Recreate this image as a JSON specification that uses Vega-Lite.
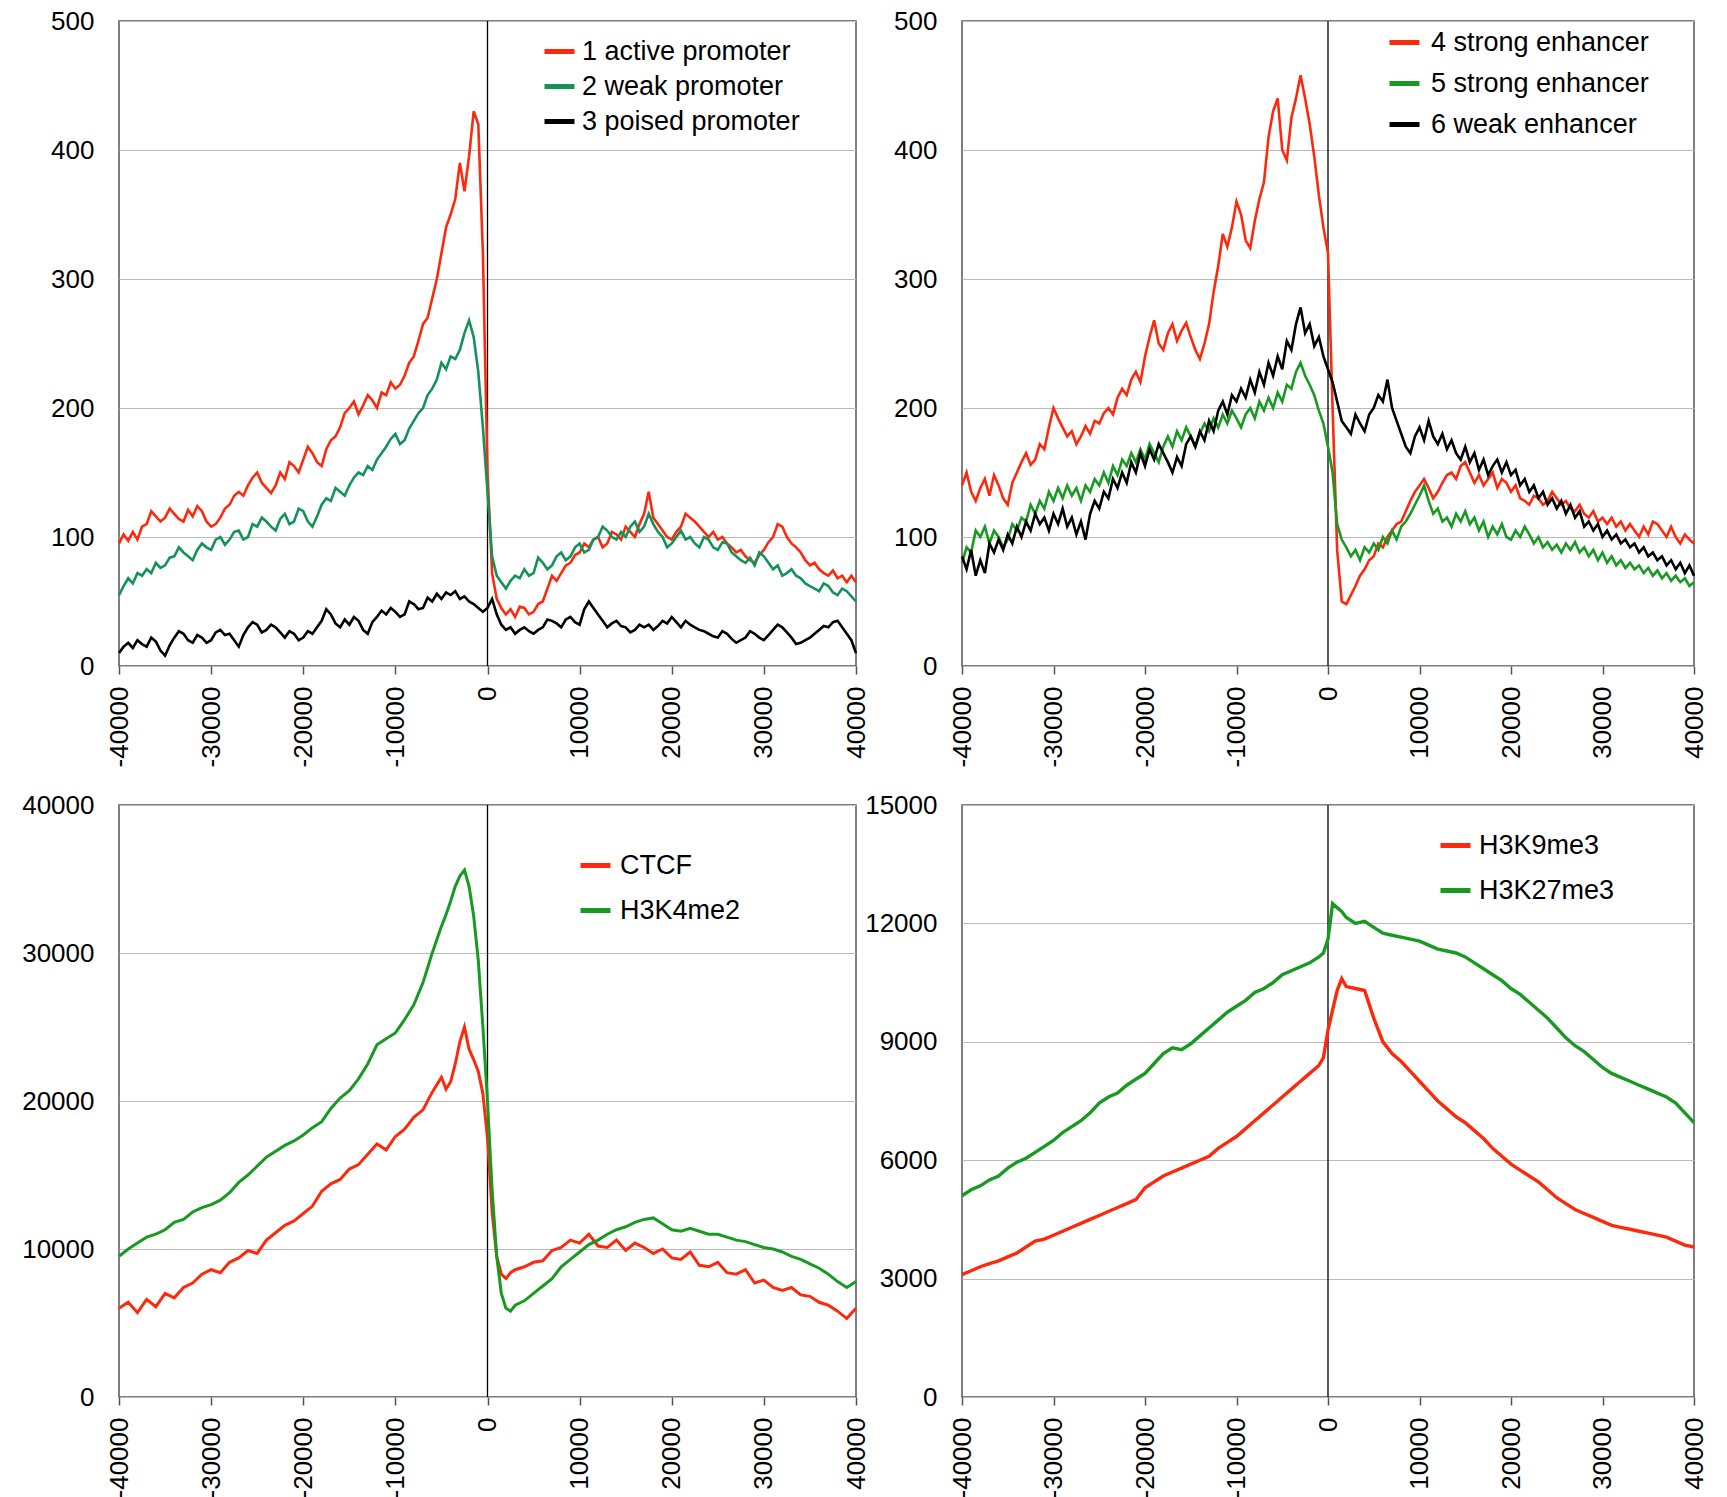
{
"$schema":"https://vega.github.io/schema/vega-lite/v6.json",
"background":"white",
"padding":{"left":20,"top":7,"right":5,"bottom":5},
"columns":2,
"bounds":"flush",
"spacing":{"row":139,"column":106},
"resolve":{"scale":{"color":"independent","x":"independent","y":"independent"},"legend":{"color":"independent"}},
"config":{
"font":"Liberation Sans",
"view":{"stroke":"#555555","strokeWidth":1.5},
"axis":{"labelFont":"Liberation Sans","labelFontSize":26,"labelColor":"#000000","labelFlush":false,"labelOverlap":false,"labelBound":false},
"axisX":{"labelAngle":-90,"tickSize":8,"tickColor":"#555555","tickWidth":1.5,"domain":false,"grid":false,"labelPadding":12,"labelAlign":"right","labelBaseline":"middle"},
"axisY":{"ticks":false,"domain":false,"grid":true,"gridColor":"#bbbbbb","gridWidth":1.2,"labelPadding":25},
"legend":{"orient":"none","symbolType":"stroke","symbolStrokeWidth":5,"symbolSize":900,"labelFont":"Liberation Sans","labelFontSize":27,"labelColor":"#000000","padding":0,"labelLimit":600}
},
"concat":[
{
"width":737,"height":645,
"data":{"values":[
{"x":-40000,"a":95,"b":55,"c":10},{"x":-39500,"a":102,"b":62,"c":15},{"x":-39000,"a":97,"b":68,"c":18},{"x":-38500,"a":104,"b":64,"c":14},
{"x":-38000,"a":98,"b":72,"c":20},{"x":-37500,"a":108,"b":70,"c":17},{"x":-37000,"a":110,"b":75,"c":15},{"x":-36500,"a":120,"b":72,"c":22},
{"x":-36000,"a":116,"b":80,"c":19},{"x":-35500,"a":112,"b":76,"c":12},{"x":-35000,"a":115,"b":78,"c":8},{"x":-34500,"a":122,"b":84,"c":16},
{"x":-34000,"a":118,"b":85,"c":22},{"x":-33500,"a":114,"b":92,"c":27},{"x":-33000,"a":112,"b":88,"c":25},{"x":-32500,"a":121,"b":85,"c":20},
{"x":-32000,"a":116,"b":82,"c":18},{"x":-31500,"a":124,"b":90,"c":24},{"x":-31000,"a":120,"b":95,"c":22},{"x":-30500,"a":112,"b":92,"c":18},
{"x":-30000,"a":108,"b":90,"c":20},{"x":-29500,"a":110,"b":98,"c":26},{"x":-29000,"a":115,"b":100,"c":28},{"x":-28500,"a":122,"b":94,"c":24},
{"x":-28000,"a":125,"b":98,"c":25},{"x":-27500,"a":132,"b":104,"c":20},{"x":-27000,"a":135,"b":105,"c":15},{"x":-26500,"a":132,"b":98,"c":24},
{"x":-26000,"a":140,"b":100,"c":30},{"x":-25500,"a":146,"b":110,"c":34},{"x":-25000,"a":150,"b":108,"c":32},{"x":-24500,"a":142,"b":115,"c":26},
{"x":-24000,"a":138,"b":112,"c":28},{"x":-23500,"a":134,"b":108,"c":32},{"x":-23000,"a":140,"b":105,"c":30},{"x":-22500,"a":150,"b":114,"c":26},
{"x":-22000,"a":145,"b":118,"c":22},{"x":-21500,"a":158,"b":110,"c":27},{"x":-21000,"a":155,"b":112,"c":25},{"x":-20500,"a":150,"b":122,"c":20},
{"x":-20000,"a":160,"b":120,"c":22},{"x":-19500,"a":170,"b":112,"c":27},{"x":-19000,"a":165,"b":108,"c":25},{"x":-18500,"a":158,"b":116,"c":30},
{"x":-18000,"a":155,"b":125,"c":35},{"x":-17500,"a":168,"b":130,"c":44},{"x":-17000,"a":175,"b":128,"c":40},{"x":-16500,"a":178,"b":138,"c":33},
{"x":-16000,"a":185,"b":135,"c":30},{"x":-15500,"a":196,"b":132,"c":36},{"x":-15000,"a":200,"b":140,"c":32},{"x":-14500,"a":205,"b":146,"c":38},
{"x":-14000,"a":195,"b":150,"c":35},{"x":-13500,"a":202,"b":148,"c":28},{"x":-13000,"a":210,"b":155,"c":25},{"x":-12500,"a":206,"b":152,"c":34},
{"x":-12000,"a":200,"b":160,"c":38},{"x":-11500,"a":212,"b":165,"c":43},{"x":-11000,"a":210,"b":170,"c":40},{"x":-10500,"a":220,"b":176,"c":45},
{"x":-10000,"a":215,"b":180,"c":42},{"x":-9500,"a":218,"b":172,"c":38},{"x":-9000,"a":225,"b":175,"c":40},{"x":-8500,"a":235,"b":184,"c":50},
{"x":-8000,"a":240,"b":190,"c":48},{"x":-7500,"a":252,"b":196,"c":44},{"x":-7000,"a":265,"b":200,"c":45},{"x":-6500,"a":270,"b":210,"c":53},
{"x":-6000,"a":285,"b":215,"c":50},{"x":-5500,"a":300,"b":222,"c":56},{"x":-5000,"a":320,"b":235,"c":52},{"x":-4500,"a":340,"b":230,"c":57},
{"x":-4000,"a":350,"b":240,"c":55},{"x":-3500,"a":362,"b":238,"c":58},{"x":-3000,"a":390,"b":245,"c":52},{"x":-2500,"a":368,"b":258,"c":54},
{"x":-2000,"a":395,"b":268,"c":50},{"x":-1500,"a":430,"b":255,"c":48},{"x":-1000,"a":420,"b":228,"c":45},{"x":-500,"a":320,"b":185,"c":42},
{"x":0,"a":150,"b":135,"c":45},{"x":500,"a":72,"b":85,"c":52},{"x":1000,"a":52,"b":70,"c":40},{"x":1500,"a":45,"b":65,"c":32},
{"x":2000,"a":40,"b":60,"c":28},{"x":2500,"a":44,"b":66,"c":30},{"x":3000,"a":38,"b":70,"c":25},{"x":3500,"a":46,"b":68,"c":28},
{"x":4000,"a":45,"b":75,"c":30},{"x":4500,"a":40,"b":70,"c":27},{"x":5000,"a":42,"b":72,"c":25},{"x":5500,"a":48,"b":84,"c":28},
{"x":6000,"a":50,"b":80,"c":30},{"x":6500,"a":60,"b":75,"c":36},{"x":7000,"a":70,"b":78,"c":35},{"x":7500,"a":66,"b":85,"c":33},
{"x":8000,"a":72,"b":88,"c":30},{"x":8500,"a":78,"b":82,"c":36},{"x":9000,"a":80,"b":85,"c":38},{"x":9500,"a":86,"b":92,"c":34},
{"x":10000,"a":88,"b":95,"c":32},{"x":10500,"a":95,"b":88,"c":44},{"x":11000,"a":92,"b":90,"c":50},{"x":11500,"a":98,"b":98,"c":45},
{"x":12000,"a":100,"b":100,"c":40},{"x":12500,"a":92,"b":108,"c":35},{"x":13000,"a":95,"b":105,"c":30},{"x":13500,"a":104,"b":100,"c":33},
{"x":14000,"a":102,"b":98,"c":35},{"x":14500,"a":98,"b":104,"c":31},{"x":15000,"a":108,"b":100,"c":30},{"x":15500,"a":104,"b":108,"c":26},
{"x":16000,"a":100,"b":112,"c":28},{"x":16500,"a":110,"b":104,"c":32},{"x":17000,"a":118,"b":108,"c":30},{"x":17500,"a":135,"b":118,"c":32},
{"x":18000,"a":115,"b":110,"c":28},{"x":18500,"a":110,"b":104,"c":31},{"x":19000,"a":105,"b":100,"c":35},{"x":19500,"a":100,"b":92,"c":33},
{"x":20000,"a":98,"b":95,"c":38},{"x":20500,"a":104,"b":100,"c":34},{"x":21000,"a":108,"b":105,"c":30},{"x":21500,"a":118,"b":98,"c":35},
{"x":22000,"a":115,"b":100,"c":32},{"x":22500,"a":112,"b":95,"c":30},{"x":23000,"a":108,"b":92,"c":28},{"x":23500,"a":104,"b":100,"c":27},
{"x":24000,"a":100,"b":98,"c":25},{"x":24500,"a":104,"b":92,"c":23},{"x":25000,"a":98,"b":90,"c":22},{"x":25500,"a":100,"b":96,"c":27},
{"x":26000,"a":95,"b":95,"c":25},{"x":26500,"a":92,"b":88,"c":21},{"x":27000,"a":88,"b":85,"c":18},{"x":27500,"a":90,"b":82,"c":20},
{"x":28000,"a":85,"b":80,"c":22},{"x":28500,"a":82,"b":84,"c":27},{"x":29000,"a":80,"b":78,"c":25},{"x":29500,"a":86,"b":88,"c":22},
{"x":30000,"a":90,"b":85,"c":20},{"x":30500,"a":96,"b":80,"c":24},{"x":31000,"a":100,"b":75,"c":28},{"x":31500,"a":110,"b":78,"c":32},
{"x":32000,"a":108,"b":70,"c":30},{"x":32500,"a":100,"b":72,"c":26},{"x":33000,"a":95,"b":75,"c":22},{"x":33500,"a":92,"b":70,"c":17},
{"x":34000,"a":88,"b":68,"c":18},{"x":34500,"a":82,"b":64,"c":20},{"x":35000,"a":78,"b":62,"c":22},{"x":35500,"a":80,"b":60,"c":25},
{"x":36000,"a":75,"b":58,"c":28},{"x":36500,"a":72,"b":64,"c":31},{"x":37000,"a":70,"b":62,"c":30},{"x":37500,"a":74,"b":57,"c":34},
{"x":38000,"a":68,"b":55,"c":35},{"x":38500,"a":70,"b":60,"c":30},{"x":39000,"a":65,"b":58,"c":25},{"x":39500,"a":70,"b":54,"c":20},
{"x":40000,"a":65,"b":50,"c":10}
]},
"layer":[
{"data":{"values":[{"x":0}]},"mark":{"type":"rule","color":"#000000","strokeWidth":1.3},
"encoding":{"x":{"field":"x","type":"quantitative","scale":{"domain":[-40000,40000],"nice":false,"zero":false},"axis":{"title":null,"values":[-40000,-30000,-20000,-10000,0,10000,20000,30000,40000],"labelExpr":"datum.value + ''"}}}},
{"transform":[{"fold":["a","b","c"],"as":["k","v"]}],
"mark":{"type":"line","strokeWidth":2.6},
"encoding":{
"x":{"field":"x","type":"quantitative","scale":{"domain":[-40000,40000],"nice":false,"zero":false},"axis":{"title":null,"values":[-40000,-30000,-20000,-10000,0,10000,20000,30000,40000],"labelExpr":"datum.value + ''"}},
"y":{"field":"v","type":"quantitative","scale":{"domain":[0,500],"nice":false},"axis":{"title":null,"values":[0,100,200,300,400,500],"labelExpr":"datum.value + ''"}},
"color":{"field":"k","type":"nominal","scale":{"domain":["a","b","c"],"range":["#fb2a0c","#13925a","#000000"]},
"legend":{"title":null,"legendX":423,"legendY":13,"rowPadding":4,"labelOffset":5,"labelExpr":"datum.label == 'a' ? '1 active promoter' : datum.label == 'b' ? '2 weak promoter' : '3 poised promoter'"}}
}}
]
},
{
"width":732,"height":645,
"data":{"values":[
{"x":-40000,"a":140,"b":80,"c":85},{"x":-39500,"a":150,"b":92,"c":75},{"x":-39000,"a":135,"b":88,"c":90},{"x":-38500,"a":128,"b":105,"c":70},
{"x":-38000,"a":138,"b":100,"c":82},{"x":-37500,"a":145,"b":108,"c":72},{"x":-37000,"a":132,"b":95,"c":95},{"x":-36500,"a":148,"b":105,"c":88},
{"x":-36000,"a":140,"b":100,"c":98},{"x":-35500,"a":130,"b":92,"c":90},{"x":-35000,"a":125,"b":98,"c":102},{"x":-34500,"a":142,"b":110,"c":95},
{"x":-34000,"a":150,"b":105,"c":108},{"x":-33500,"a":158,"b":115,"c":100},{"x":-33000,"a":165,"b":112,"c":112},{"x":-32500,"a":156,"b":125,"c":105},
{"x":-32000,"a":160,"b":118,"c":118},{"x":-31500,"a":172,"b":128,"c":110},{"x":-31000,"a":168,"b":122,"c":115},{"x":-30500,"a":185,"b":135,"c":105},
{"x":-30000,"a":200,"b":128,"c":118},{"x":-29500,"a":192,"b":138,"c":110},{"x":-29000,"a":185,"b":130,"c":122},{"x":-28500,"a":178,"b":140,"c":108},
{"x":-28000,"a":182,"b":132,"c":115},{"x":-27500,"a":172,"b":138,"c":102},{"x":-27000,"a":178,"b":128,"c":112},{"x":-26500,"a":186,"b":140,"c":98},
{"x":-26000,"a":180,"b":135,"c":118},{"x":-25500,"a":190,"b":145,"c":128},{"x":-25000,"a":188,"b":140,"c":122},{"x":-24500,"a":196,"b":150,"c":135},
{"x":-24000,"a":200,"b":142,"c":130},{"x":-23500,"a":195,"b":155,"c":145},{"x":-23000,"a":208,"b":148,"c":138},{"x":-22500,"a":215,"b":160,"c":150},
{"x":-22000,"a":210,"b":155,"c":142},{"x":-21500,"a":222,"b":165,"c":158},{"x":-21000,"a":228,"b":158,"c":150},{"x":-20500,"a":220,"b":168,"c":165},
{"x":-20000,"a":240,"b":160,"c":155},{"x":-19500,"a":255,"b":172,"c":168},{"x":-19000,"a":268,"b":165,"c":160},{"x":-18500,"a":250,"b":158,"c":172},
{"x":-18000,"a":245,"b":170,"c":165},{"x":-17500,"a":258,"b":178,"c":158},{"x":-17000,"a":265,"b":170,"c":150},{"x":-16500,"a":252,"b":182,"c":162},
{"x":-16000,"a":260,"b":175,"c":155},{"x":-15500,"a":266,"b":185,"c":172},{"x":-15000,"a":255,"b":178,"c":178},{"x":-14500,"a":245,"b":170,"c":170},
{"x":-14000,"a":238,"b":180,"c":182},{"x":-13500,"a":250,"b":188,"c":175},{"x":-13000,"a":265,"b":182,"c":190},{"x":-12500,"a":290,"b":192,"c":182},
{"x":-12000,"a":310,"b":185,"c":198},{"x":-11500,"a":335,"b":195,"c":205},{"x":-11000,"a":325,"b":188,"c":195},{"x":-10500,"a":340,"b":198,"c":210},
{"x":-10000,"a":360,"b":192,"c":205},{"x":-9500,"a":350,"b":185,"c":215},{"x":-9000,"a":330,"b":195,"c":208},{"x":-8500,"a":324,"b":200,"c":222},
{"x":-8000,"a":345,"b":192,"c":212},{"x":-7500,"a":362,"b":205,"c":228},{"x":-7000,"a":375,"b":198,"c":218},{"x":-6500,"a":410,"b":208,"c":235},
{"x":-6000,"a":430,"b":200,"c":225},{"x":-5500,"a":440,"b":212,"c":240},{"x":-5000,"a":400,"b":205,"c":230},{"x":-4500,"a":392,"b":218,"c":252},
{"x":-4000,"a":425,"b":215,"c":245},{"x":-3500,"a":440,"b":228,"c":265},{"x":-3000,"a":458,"b":235,"c":278},{"x":-2500,"a":440,"b":225,"c":258},
{"x":-2000,"a":420,"b":218,"c":265},{"x":-1500,"a":395,"b":210,"c":248},{"x":-1000,"a":365,"b":198,"c":255},{"x":-500,"a":340,"b":188,"c":240},
{"x":0,"a":320,"b":170,"c":230},{"x":500,"a":200,"b":150,"c":220},{"x":1000,"a":90,"b":110,"c":205},{"x":1500,"a":50,"b":98,"c":190},
{"x":2000,"a":48,"b":92,"c":185},{"x":2500,"a":55,"b":85,"c":180},{"x":3000,"a":62,"b":90,"c":195},{"x":3500,"a":70,"b":82,"c":188},
{"x":4000,"a":75,"b":92,"c":182},{"x":4500,"a":82,"b":88,"c":195},{"x":5000,"a":85,"b":95,"c":200},{"x":5500,"a":95,"b":90,"c":210},
{"x":6000,"a":92,"b":100,"c":205},{"x":6500,"a":100,"b":95,"c":222},{"x":7000,"a":105,"b":105,"c":200},{"x":7500,"a":110,"b":98,"c":190},
{"x":8000,"a":112,"b":108,"c":180},{"x":8500,"a":120,"b":112,"c":170},{"x":9000,"a":128,"b":118,"c":165},{"x":9500,"a":135,"b":125,"c":178},
{"x":10000,"a":140,"b":132,"c":185},{"x":10500,"a":145,"b":140,"c":175},{"x":11000,"a":138,"b":128,"c":190},{"x":11500,"a":130,"b":118,"c":178},
{"x":12000,"a":135,"b":122,"c":172},{"x":12500,"a":142,"b":112,"c":180},{"x":13000,"a":148,"b":115,"c":168},{"x":13500,"a":150,"b":108,"c":175},
{"x":14000,"a":145,"b":118,"c":165},{"x":14500,"a":155,"b":112,"c":160},{"x":15000,"a":158,"b":120,"c":170},{"x":15500,"a":150,"b":110,"c":158},
{"x":16000,"a":142,"b":115,"c":165},{"x":16500,"a":148,"b":105,"c":152},{"x":17000,"a":140,"b":112,"c":160},{"x":17500,"a":145,"b":100,"c":148},
{"x":18000,"a":150,"b":108,"c":155},{"x":18500,"a":138,"b":102,"c":160},{"x":19000,"a":145,"b":110,"c":150},{"x":19500,"a":142,"b":100,"c":158},
{"x":20000,"a":135,"b":98,"c":148},{"x":20500,"a":140,"b":105,"c":152},{"x":21000,"a":130,"b":100,"c":140},{"x":21500,"a":128,"b":108,"c":145},
{"x":22000,"a":125,"b":102,"c":135},{"x":22500,"a":132,"b":95,"c":140},{"x":23000,"a":130,"b":100,"c":130},{"x":23500,"a":125,"b":92,"c":135},
{"x":24000,"a":128,"b":96,"c":125},{"x":24500,"a":135,"b":90,"c":130},{"x":25000,"a":130,"b":94,"c":122},{"x":25500,"a":125,"b":88,"c":128},
{"x":26000,"a":128,"b":95,"c":118},{"x":26500,"a":122,"b":90,"c":125},{"x":27000,"a":120,"b":96,"c":115},{"x":27500,"a":125,"b":88,"c":120},
{"x":28000,"a":118,"b":92,"c":108},{"x":28500,"a":115,"b":85,"c":112},{"x":29000,"a":120,"b":90,"c":105},{"x":29500,"a":112,"b":82,"c":110},
{"x":30000,"a":115,"b":88,"c":100},{"x":30500,"a":110,"b":80,"c":105},{"x":31000,"a":115,"b":85,"c":98},{"x":31500,"a":108,"b":78,"c":102},
{"x":32000,"a":112,"b":82,"c":95},{"x":32500,"a":105,"b":76,"c":98},{"x":33000,"a":110,"b":80,"c":92},{"x":33500,"a":105,"b":75,"c":95},
{"x":34000,"a":100,"b":78,"c":88},{"x":34500,"a":108,"b":72,"c":92},{"x":35000,"a":102,"b":76,"c":85},{"x":35500,"a":112,"b":70,"c":88},
{"x":36000,"a":110,"b":74,"c":82},{"x":36500,"a":105,"b":68,"c":85},{"x":37000,"a":100,"b":72,"c":78},{"x":37500,"a":108,"b":66,"c":82},
{"x":38000,"a":100,"b":70,"c":75},{"x":38500,"a":95,"b":65,"c":80},{"x":39000,"a":102,"b":68,"c":72},{"x":39500,"a":98,"b":62,"c":78},
{"x":40000,"a":95,"b":65,"c":70}
]},
"layer":[
{"data":{"values":[{"x":0}]},"mark":{"type":"rule","color":"#000000","strokeWidth":1.3},
"encoding":{"x":{"field":"x","type":"quantitative","scale":{"domain":[-40000,40000],"nice":false,"zero":false},"axis":{"title":null,"values":[-40000,-30000,-20000,-10000,0,10000,20000,30000,40000],"labelExpr":"datum.value + ''"}}}},
{"transform":[{"fold":["a","b","c"],"as":["k","v"]}],
"mark":{"type":"line","strokeWidth":2.6},
"encoding":{
"x":{"field":"x","type":"quantitative","scale":{"domain":[-40000,40000],"nice":false,"zero":false},"axis":{"title":null,"values":[-40000,-30000,-20000,-10000,0,10000,20000,30000,40000],"labelExpr":"datum.value + ''"}},
"y":{"field":"v","type":"quantitative","scale":{"domain":[0,500],"nice":false},"axis":{"title":null,"values":[0,100,200,300,400,500],"labelExpr":"datum.value + ''"}},
"color":{"field":"k","type":"nominal","scale":{"domain":["a","b","c"],"range":["#fb2a0c","#189a22","#000000"]},
"legend":{"title":null,"legendX":425,"legendY":4,"rowPadding":10,"labelOffset":9,"labelExpr":"datum.label == 'a' ? '4 strong enhancer' : datum.label == 'b' ? '5 strong enhancer' : '6 weak enhancer'"}}
}}
]
},
{
"width":737,"height":592,
"data":{"values":[
{"x":-40000,"a":6000,"b":9500},{"x":-39000,"a":6400,"b":10000},{"x":-38000,"a":5700,"b":10400},{"x":-37000,"a":6600,"b":10800},
{"x":-36000,"a":6100,"b":11000},{"x":-35000,"a":7000,"b":11300},{"x":-34000,"a":6700,"b":11800},{"x":-33000,"a":7400,"b":12000},
{"x":-32000,"a":7700,"b":12500},{"x":-31000,"a":8300,"b":12800},{"x":-30000,"a":8600,"b":13000},{"x":-29000,"a":8400,"b":13300},
{"x":-28000,"a":9100,"b":13800},{"x":-27000,"a":9400,"b":14500},{"x":-26000,"a":9900,"b":15000},{"x":-25000,"a":9700,"b":15600},
{"x":-24000,"a":10600,"b":16200},{"x":-23000,"a":11100,"b":16600},{"x":-22000,"a":11600,"b":17000},{"x":-21000,"a":11900,"b":17300},
{"x":-20000,"a":12400,"b":17700},{"x":-19000,"a":12900,"b":18200},{"x":-18000,"a":13900,"b":18600},{"x":-17000,"a":14400,"b":19500},
{"x":-16000,"a":14700,"b":20200},{"x":-15000,"a":15400,"b":20700},{"x":-14000,"a":15700,"b":21500},{"x":-13000,"a":16400,"b":22500},
{"x":-12000,"a":17100,"b":23800},{"x":-11000,"a":16700,"b":24200},{"x":-10000,"a":17600,"b":24600},{"x":-9000,"a":18100,"b":25500},
{"x":-8000,"a":18900,"b":26500},{"x":-7000,"a":19400,"b":28000},{"x":-6000,"a":20600,"b":30000},{"x":-5000,"a":21600,"b":31800},
{"x":-4500,"a":20800,"b":32600},{"x":-4000,"a":21300,"b":33500},{"x":-3500,"a":22500,"b":34500},{"x":-3000,"a":24000,"b":35200},
{"x":-2500,"a":25000,"b":35600},{"x":-2000,"a":23500,"b":34500},{"x":-1500,"a":22800,"b":32500},{"x":-1000,"a":22000,"b":29500},
{"x":-500,"a":20500,"b":25000},{"x":0,"a":17500,"b":20000},{"x":500,"a":12500,"b":14000},{"x":1000,"a":9500,"b":9500},
{"x":1500,"a":8300,"b":7000},{"x":2000,"a":8000,"b":6000},{"x":2500,"a":8400,"b":5800},{"x":3000,"a":8600,"b":6200},
{"x":4000,"a":8800,"b":6500},{"x":5000,"a":9100,"b":7000},{"x":6000,"a":9200,"b":7500},{"x":7000,"a":9900,"b":8000},
{"x":8000,"a":10100,"b":8800},{"x":9000,"a":10600,"b":9300},{"x":10000,"a":10400,"b":9800},{"x":11000,"a":11000,"b":10300},
{"x":12000,"a":10200,"b":10600},{"x":13000,"a":10100,"b":11000},{"x":14000,"a":10600,"b":11300},{"x":15000,"a":9900,"b":11500},
{"x":16000,"a":10400,"b":11800},{"x":17000,"a":10100,"b":12000},{"x":18000,"a":9700,"b":12100},{"x":19000,"a":10000,"b":11700},
{"x":20000,"a":9400,"b":11300},{"x":21000,"a":9300,"b":11200},{"x":22000,"a":9800,"b":11400},{"x":23000,"a":8900,"b":11200},
{"x":24000,"a":8800,"b":11000},{"x":25000,"a":9100,"b":11000},{"x":26000,"a":8400,"b":10800},{"x":27000,"a":8300,"b":10600},
{"x":28000,"a":8600,"b":10500},{"x":29000,"a":7700,"b":10300},{"x":30000,"a":7900,"b":10100},{"x":31000,"a":7400,"b":10000},
{"x":32000,"a":7200,"b":9800},{"x":33000,"a":7400,"b":9500},{"x":34000,"a":6900,"b":9300},{"x":35000,"a":6800,"b":9000},
{"x":36000,"a":6400,"b":8700},{"x":37000,"a":6200,"b":8300},{"x":38000,"a":5800,"b":7800},{"x":39000,"a":5300,"b":7400},
{"x":40000,"a":6000,"b":7800}
]},
"layer":[
{"data":{"values":[{"x":0}]},"mark":{"type":"rule","color":"#000000","strokeWidth":1.3},
"encoding":{"x":{"field":"x","type":"quantitative","scale":{"domain":[-40000,40000],"nice":false,"zero":false},"axis":{"title":null,"values":[-40000,-30000,-20000,-10000,0,10000,20000,30000,40000],"labelExpr":"datum.value + ''"}}}},
{"transform":[{"fold":["a","b"],"as":["k","v"]}],
"mark":{"type":"line","strokeWidth":3},
"encoding":{
"x":{"field":"x","type":"quantitative","scale":{"domain":[-40000,40000],"nice":false,"zero":false},"axis":{"title":null,"values":[-40000,-30000,-20000,-10000,0,10000,20000,30000,40000],"labelExpr":"datum.value + ''"}},
"y":{"field":"v","type":"quantitative","scale":{"domain":[0,40000],"nice":false},"axis":{"title":null,"values":[0,10000,20000,30000,40000],"labelExpr":"datum.value + ''"}},
"color":{"field":"k","type":"nominal","scale":{"domain":["a","b"],"range":["#fb2a0c","#189a22"]},
"legend":{"title":null,"legendX":459,"legendY":43,"rowPadding":14,"labelOffset":7,"labelExpr":"datum.label == 'a' ? 'CTCF' : 'H3K4me2'"}}
}}
]
},
{
"width":732,"height":592,
"data":{"values":[
{"x":-40000,"a":3100,"b":5100},{"x":-39000,"a":3200,"b":5250},{"x":-38000,"a":3300,"b":5350},{"x":-37000,"a":3380,"b":5500},
{"x":-36000,"a":3450,"b":5600},{"x":-35000,"a":3550,"b":5800},{"x":-34000,"a":3650,"b":5950},{"x":-33000,"a":3800,"b":6050},
{"x":-32000,"a":3950,"b":6200},{"x":-31000,"a":4000,"b":6350},{"x":-30000,"a":4100,"b":6500},{"x":-29000,"a":4200,"b":6700},
{"x":-28000,"a":4300,"b":6850},{"x":-27000,"a":4400,"b":7000},{"x":-26000,"a":4500,"b":7200},{"x":-25000,"a":4600,"b":7450},
{"x":-24000,"a":4700,"b":7600},{"x":-23000,"a":4800,"b":7700},{"x":-22000,"a":4900,"b":7900},{"x":-21000,"a":5000,"b":8050},
{"x":-20000,"a":5300,"b":8200},{"x":-19000,"a":5450,"b":8450},{"x":-18000,"a":5600,"b":8700},{"x":-17000,"a":5700,"b":8850},
{"x":-16000,"a":5800,"b":8800},{"x":-15000,"a":5900,"b":8950},{"x":-14000,"a":6000,"b":9150},{"x":-13000,"a":6100,"b":9350},
{"x":-12000,"a":6300,"b":9550},{"x":-11000,"a":6450,"b":9750},{"x":-10000,"a":6600,"b":9900},{"x":-9000,"a":6800,"b":10050},
{"x":-8000,"a":7000,"b":10250},{"x":-7000,"a":7200,"b":10350},{"x":-6000,"a":7400,"b":10500},{"x":-5000,"a":7600,"b":10700},
{"x":-4000,"a":7800,"b":10800},{"x":-3000,"a":8000,"b":10900},{"x":-2000,"a":8200,"b":11000},{"x":-1000,"a":8400,"b":11150},
{"x":-500,"a":8600,"b":11250},{"x":0,"a":9300,"b":11600},{"x":500,"a":9800,"b":12500},{"x":1000,"a":10300,"b":12400},
{"x":1500,"a":10600,"b":12300},{"x":2000,"a":10400,"b":12150},{"x":3000,"a":10350,"b":12000},{"x":4000,"a":10300,"b":12050},
{"x":5000,"a":9600,"b":11900},{"x":6000,"a":9000,"b":11750},{"x":7000,"a":8700,"b":11700},{"x":8000,"a":8500,"b":11650},
{"x":9000,"a":8250,"b":11600},{"x":10000,"a":8000,"b":11550},{"x":11000,"a":7750,"b":11450},{"x":12000,"a":7500,"b":11350},
{"x":13000,"a":7300,"b":11300},{"x":14000,"a":7100,"b":11250},{"x":15000,"a":6950,"b":11150},{"x":16000,"a":6750,"b":11000},
{"x":17000,"a":6550,"b":10850},{"x":18000,"a":6300,"b":10700},{"x":19000,"a":6100,"b":10550},{"x":20000,"a":5900,"b":10350},
{"x":21000,"a":5750,"b":10200},{"x":22000,"a":5600,"b":10000},{"x":23000,"a":5450,"b":9800},{"x":24000,"a":5250,"b":9600},
{"x":25000,"a":5050,"b":9350},{"x":26000,"a":4900,"b":9100},{"x":27000,"a":4750,"b":8900},{"x":28000,"a":4650,"b":8750},
{"x":29000,"a":4550,"b":8550},{"x":30000,"a":4450,"b":8350},{"x":31000,"a":4350,"b":8200},{"x":32000,"a":4300,"b":8100},
{"x":33000,"a":4250,"b":8000},{"x":34000,"a":4200,"b":7900},{"x":35000,"a":4150,"b":7800},{"x":36000,"a":4100,"b":7700},
{"x":37000,"a":4050,"b":7600},{"x":38000,"a":3950,"b":7450},{"x":39000,"a":3850,"b":7200},{"x":40000,"a":3800,"b":6950}
]},
"layer":[
{"data":{"values":[{"x":0}]},"mark":{"type":"rule","color":"#000000","strokeWidth":1.3},
"encoding":{"x":{"field":"x","type":"quantitative","scale":{"domain":[-40000,40000],"nice":false,"zero":false},"axis":{"title":null,"values":[-40000,-30000,-20000,-10000,0,10000,20000,30000,40000],"labelExpr":"datum.value + ''"}}}},
{"transform":[{"fold":["a","b"],"as":["k","v"]}],
"mark":{"type":"line","strokeWidth":3.4},
"encoding":{
"x":{"field":"x","type":"quantitative","scale":{"domain":[-40000,40000],"nice":false,"zero":false},"axis":{"title":null,"values":[-40000,-30000,-20000,-10000,0,10000,20000,30000,40000],"labelExpr":"datum.value + ''"}},
"y":{"field":"v","type":"quantitative","scale":{"domain":[0,15000],"nice":false},"axis":{"title":null,"values":[0,3000,6000,9000,12000,15000],"labelExpr":"datum.value + ''"}},
"color":{"field":"k","type":"nominal","scale":{"domain":["a","b"],"range":["#fb2a0c","#189a22"]},
"legend":{"title":null,"legendX":476,"legendY":23,"rowPadding":14,"labelOffset":6,"labelExpr":"datum.label == 'a' ? 'H3K9me3' : 'H3K27me3'"}}
}}
]
}
]
}
